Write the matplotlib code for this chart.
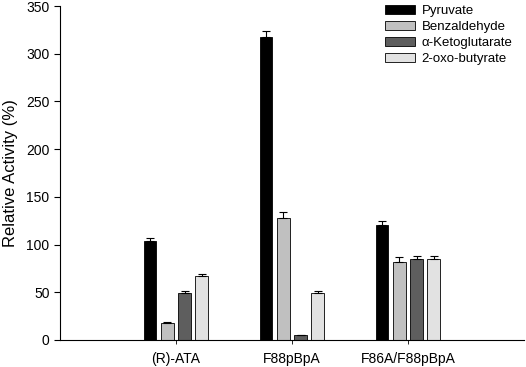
import numpy as np
import matplotlib
matplotlib.use('Agg')
import matplotlib.pyplot as plt

plt.rcParams['font.family'] = ['Liberation Sans', 'DejaVu Sans']

# Data
enzymes = ['(R)-ATA', 'F88pBpA', 'F86A/F88pBpA']
substrates = ['Pyruvate', 'Benzaldehyde', 'α-Ketoglutarate', '2-oxo-butyrate']
pyruvate = [104, 318, 120.5]
benzaldehyde = [17.5, 128, 82]
ketoglutarate = [49, 5, 85]
oxobutyrate = [67, 49, 85]
pyruvate_err = [2.5, 6, 4]
benzaldehyde_err = [1, 6, 4.5]
ketoglutarate_err = [2.5, 0.5, 2.5]
oxobutyrate_err = [2.5, 2.5, 2.5]

values = [pyruvate, benzaldehyde, ketoglutarate, oxobutyrate]
errors = [pyruvate_err, benzaldehyde_err, ketoglutarate_err, oxobutyrate_err]
colors = ['#000000', '#c0c0c0', '#5e5e5e', '#e2e2e2']

fig = plt.figure(figsize=(5.26, 3.67), dpi=100)
ax = fig.add_axes([0.114, 0.0736, 0.882, 0.91])

x = np.arange(1, len(enzymes) + 1)
pitch = 0.149
width = 0.11
for i in range(4):
    pos = x + (i - 1.5) * pitch
    ax.bar(pos, values[i], width, color=colors[i], edgecolor='black', linewidth=0.6,
           label=substrates[i], zorder=2)
    ax.errorbar(pos, values[i], yerr=[np.zeros(3), errors[i]], fmt='none',
                ecolor='black', elinewidth=0.8, capsize=3, capthick=0.8, zorder=3)

ax.set_xlim(0, 4)
ax.set_ylim(0, 350)
ax.set_xticks(x)
ax.set_xticklabels(enzymes, fontsize=10)
ax.set_yticks(np.arange(0, 351, 50))
ax.tick_params(axis='y', labelsize=10, length=4, width=0.8, direction='out')
ax.tick_params(axis='x', length=3, width=0.6, direction='out', pad=6)
ax.set_ylabel('Relative Activity (%)', fontsize=12, labelpad=6)
ax.spines['top'].set_visible(False)
ax.spines['right'].set_visible(False)
ax.spines['left'].set_linewidth(0.8)
ax.spines['bottom'].set_linewidth(0.8)

ax.legend(loc='upper left', bbox_to_anchor=(0.686, 1.022), frameon=False, fontsize=9.5,
          handlelength=2.25, handleheight=0.6, labelspacing=0.3, borderpad=0,
          handletextpad=0.55)

fig.savefig('out.png', dpi=100)
